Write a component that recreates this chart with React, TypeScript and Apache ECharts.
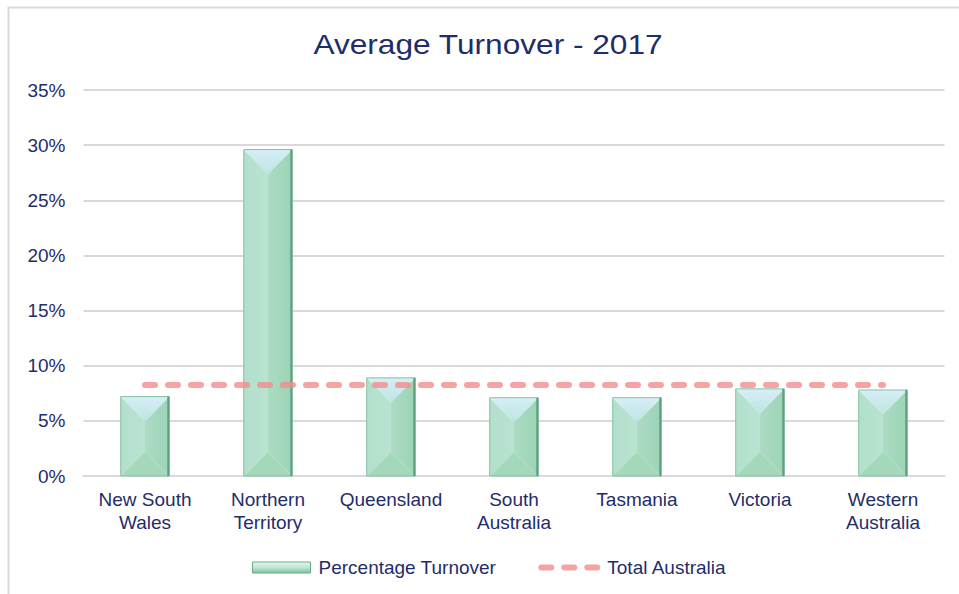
import React, { useEffect, useRef } from "react";
import * as echarts from "echarts";

const categories = [
  "New South\nWales",
  "Northern\nTerritory",
  "Queensland",
  "South\nAustralia",
  "Tasmania",
  "Victoria",
  "Western\nAustralia",
];
const percentageTurnover = [7.2, 29.6, 8.9, 7.1, 7.1, 7.9, 7.8];
const totalAustralia = [8.25, 8.25, 8.25, 8.25, 8.25, 8.25, 8.25];
const titleText = "Average Turnover - 2017";

const NAVY = "#1f2d6b";
const FONT = "'Liberation Sans', Arial, sans-serif";
const LINE_COLOR = "rgba(242,140,140,0.8)";

export default function App() {
  const ref = useRef<HTMLDivElement>(null);
  useEffect(() => {
    if (!ref.current) return;
    const chart = echarts.init(ref.current, null, { renderer: "svg" });
    const barData = percentageTurnover.map((v, i) => [i, v]);
    const legendGradient = new echarts.graphic.LinearGradient(0, 0, 0, 1, [
      { offset: 0, color: "#e3f4f6" },
      { offset: 0.5, color: "#bfe6d2" },
      { offset: 1, color: "#7cc49c" },
    ]);
    chart.setOption({
      animation: false,
      backgroundColor: "#ffffff",
      graphic: [
        {
          type: "rect",
          shape: { x: 8.5, y: 7.5, width: 1000, height: 1000 },
          style: { fill: "none", stroke: "#d9d9d9", lineWidth: 2 },
          silent: true,
        },
        {
          type: "text",
          x: 488,
          y: 44,
          scaleX: 1.13,
          style: {
            text: titleText,
            fill: NAVY,
            fontSize: 28,
            fontFamily: FONT,
            align: "center",
            verticalAlign: "middle",
          },
          silent: true,
        },
      ],
      legend: {
        left: 247,
        top: 553,
        itemWidth: 58,
        itemHeight: 11,
        itemGap: 42,
        textStyle: { color: NAVY, fontSize: 19, fontFamily: FONT, padding: [0, 0, 0, 3] },
        data: [
          {
            name: "Percentage Turnover",
            icon: "rect",
            itemStyle: { color: legendGradient, borderColor: "#6aaa88", borderWidth: 1 },
          },
          {
            name: "Total Australia",
            itemStyle: { opacity: 0 },
            lineStyle: { color: LINE_COLOR, width: 6, type: [10, 13], cap: "round" },
          },
        ],
      },
      grid: { left: 83.5, right: 14.5, top: 90, bottom: 118 },
      xAxis: {
        type: "category",
        data: categories,
        boundaryGap: true,
        axisLine: { lineStyle: { color: "#d9d9d9", width: 2 } },
        axisTick: { show: false },
        axisLabel: {
          color: NAVY,
          fontSize: 19,
          fontFamily: FONT,
          lineHeight: 23,
          margin: 12,
          interval: 0,
        },
      },
      yAxis: {
        type: "value",
        min: 0,
        max: 35,
        interval: 5,
        axisLine: { show: false },
        axisTick: { show: false },
        splitLine: { lineStyle: { color: "#d9d9d9", width: 2 } },
        axisLabel: {
          color: NAVY,
          fontSize: 19,
          fontFamily: FONT,
          margin: 18,
          formatter: "{value}%",
        },
      },
      series: [
        {
          name: "Percentage Turnover",
          type: "custom",
          itemStyle: { color: legendGradient },
          data: barData,
          z: 2,
          renderItem: (params: any, api: any) => {
            const idx = api.value(0);
            const v = api.value(1);
            const top = api.coord([idx, v]);
            const base = api.coord([idx, 0]);
            const bw = api.size([1, 0])[0] * 0.395;
            const cx = top[0];
            const l = cx - bw / 2;
            const r = cx + bw / 2;
            const t = top[1];
            const b = base[1];
            const h = b - t;
            const d = Math.min(bw / 2, h / 2);
            return {
              type: "group",
              children: [
                {
                  type: "polygon",
                  shape: { points: [[l, t], [cx, t + d], [cx, b - d], [l, b]] },
                  style: {
                    fill: new echarts.graphic.LinearGradient(0, 0, 1, 0, [
                      { offset: 0, color: "#b2dfcb" },
                      { offset: 1, color: "#bae3d2" },
                    ]),
                  },
                },
                {
                  type: "polygon",
                  shape: { points: [[r, t], [cx, t + d], [cx, b - d], [r, b]] },
                  style: {
                    fill: new echarts.graphic.LinearGradient(0, 0, 1, 0, [
                      { offset: 0, color: "#acdcc4" },
                      { offset: 1, color: "#9bd3b5" },
                    ]),
                  },
                },
                {
                  type: "polygon",
                  shape: { points: [[l, t], [r, t], [cx, t + d]] },
                  style: {
                    fill: new echarts.graphic.LinearGradient(0, 0, 0, 1, [
                      { offset: 0, color: "#d6eef8" },
                      { offset: 1, color: "#bde5e0" },
                    ]),
                  },
                },
                {
                  type: "polygon",
                  shape: { points: [[l, b], [r, b], [cx, b - d]] },
                  style: { fill: "#a3d8bb" },
                },
                {
                  type: "rect",
                  shape: { x: l, y: t, width: bw, height: h },
                  style: { fill: "none", stroke: "#86c2a3", lineWidth: 1 },
                },
                {
                  type: "line",
                  shape: { x1: r - 1, y1: t, x2: r - 1, y2: b },
                  style: { stroke: "#5e9f7f", lineWidth: 2 },
                },
              ],
            };
          },
        },
        {
          name: "Total Australia",
          type: "line",
          data: totalAustralia,
          symbol: "none",
          z: 3,
          itemStyle: { color: LINE_COLOR },
          lineStyle: {
            color: LINE_COLOR,
            width: 6,
            type: [10, 13],
            cap: "round",
          },
        },
      ],
    });
    return () => chart.dispose();
  }, []);
  return (
    <div
      ref={ref}
      style={{ position: "fixed", left: 0, top: 0, width: 959, height: 594 }}
    />
  );
}
